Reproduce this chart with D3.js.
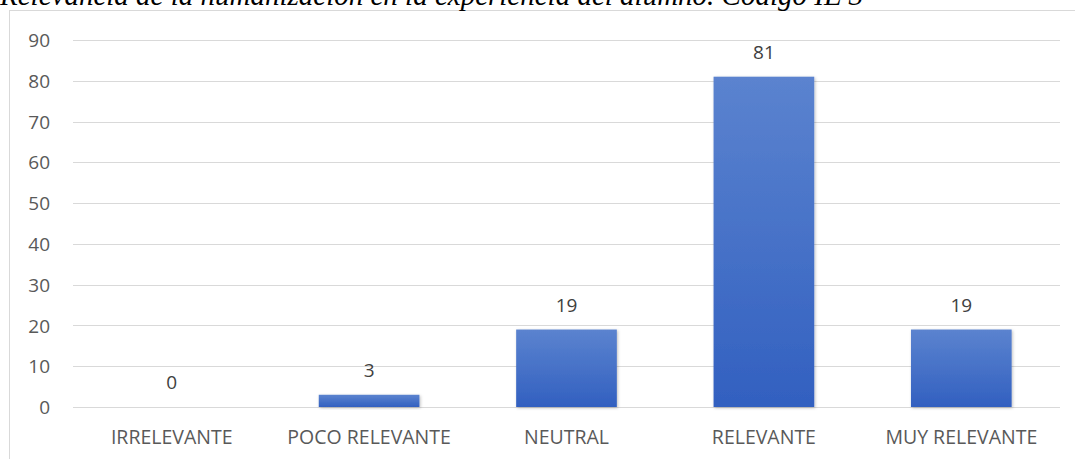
<!DOCTYPE html>
<html><head><meta charset="utf-8">
<script src="https://cdn.jsdelivr.net/npm/d3@7"></script>
<style>body{margin:0;background:#fff;overflow:hidden}</style>
</head><body>
<svg id="c" width="1075" height="459"></svg>
<script>
const categories = ["IRRELEVANTE","POCO RELEVANTE","NEUTRAL","RELEVANTE","MUY RELEVANTE"];
const values = [0,3,19,81,19];
const yTicks = [0,10,20,30,40,50,60,70,80,90];
const title = "Relevancia de la humanización en la experiencia del alumno. Código IE 3";

const svg = d3.select("#c");
const defs = svg.append("defs");
const g = defs.append("linearGradient").attr("id","bg").attr("x1",0).attr("y1",0).attr("x2",0).attr("y2",1);
g.append("stop").attr("offset","0%").attr("stop-color","#5b83cf");
g.append("stop").attr("offset","100%").attr("stop-color","#3260c0");
const f = defs.append("filter").attr("id","sh").attr("x","-10%").attr("y","-10%").attr("width","130%").attr("height","130%");
f.append("feDropShadow").attr("dx",1).attr("dy",1).attr("stdDeviation",1.5).attr("flood-color","#000").attr("flood-opacity",0.25);

// chart border
svg.append("rect").attr("x",9.5).attr("y",10.5).attr("width",1080).attr("height",460)
  .attr("fill","none").attr("stroke","#d9d9d9").attr("stroke-width",1);

// title (cut at the top edge as in the reference)
svg.append("text").attr("x",0).attr("y",5).attr("font-family","'Liberation Serif','Times New Roman',serif")
  .attr("font-style","italic").attr("font-size",29).attr("fill","#000").text(title);

const x = d3.scaleBand().domain(categories).range([73,1060]).paddingInner(0.49).paddingOuter(0.245);
const y = d3.scaleLinear().domain([0,90]).range([407,40]);

// gridlines
svg.append("g").selectAll("line").data(yTicks).join("line")
  .attr("x1",73).attr("x2",1060).attr("y1",d=>Math.round(y(d))+0.5).attr("y2",d=>Math.round(y(d))+0.5)
  .attr("stroke","#d9d9d9").attr("stroke-width",1);

// y axis labels
const yAxis = d3.axisLeft(y).tickValues(yTicks).tickSize(0).tickPadding(0);
const ya = svg.append("g").attr("transform","translate(50,0)").call(yAxis);
ya.select(".domain").remove();
ya.selectAll("text").attr("font-family","'Open Sans',sans-serif").attr("font-size",19).attr("fill","#595959").attr("dy","0.35em");

// bars
svg.append("g").selectAll("rect").data(values).join("rect")
  .attr("x",(d,i)=>x(categories[i])).attr("width",x.bandwidth())
  .attr("y",d=>y(d)).attr("height",d=>y(0)-y(d))
  .attr("fill","url(#bg)").attr("filter","url(#sh)");

// data labels
svg.append("g").selectAll("text").data(values).join("text")
  .attr("x",(d,i)=>x(categories[i])+x.bandwidth()/2).attr("y",d=>y(d)-18)
  .attr("text-anchor","middle").attr("font-family","'Open Sans',sans-serif").attr("font-size",19).attr("fill","#404040")
  .text(d=>d);

// x axis labels
const xAxis = d3.axisBottom(x).tickSize(0).tickPadding(0);
const xa = svg.append("g").attr("transform","translate(0,444)").call(xAxis);
xa.select(".domain").remove();
xa.selectAll("text").attr("font-family","'Open Sans',sans-serif").attr("font-size",19.5).attr("fill","#595959").attr("dy","0");
</script>
</body></html>
